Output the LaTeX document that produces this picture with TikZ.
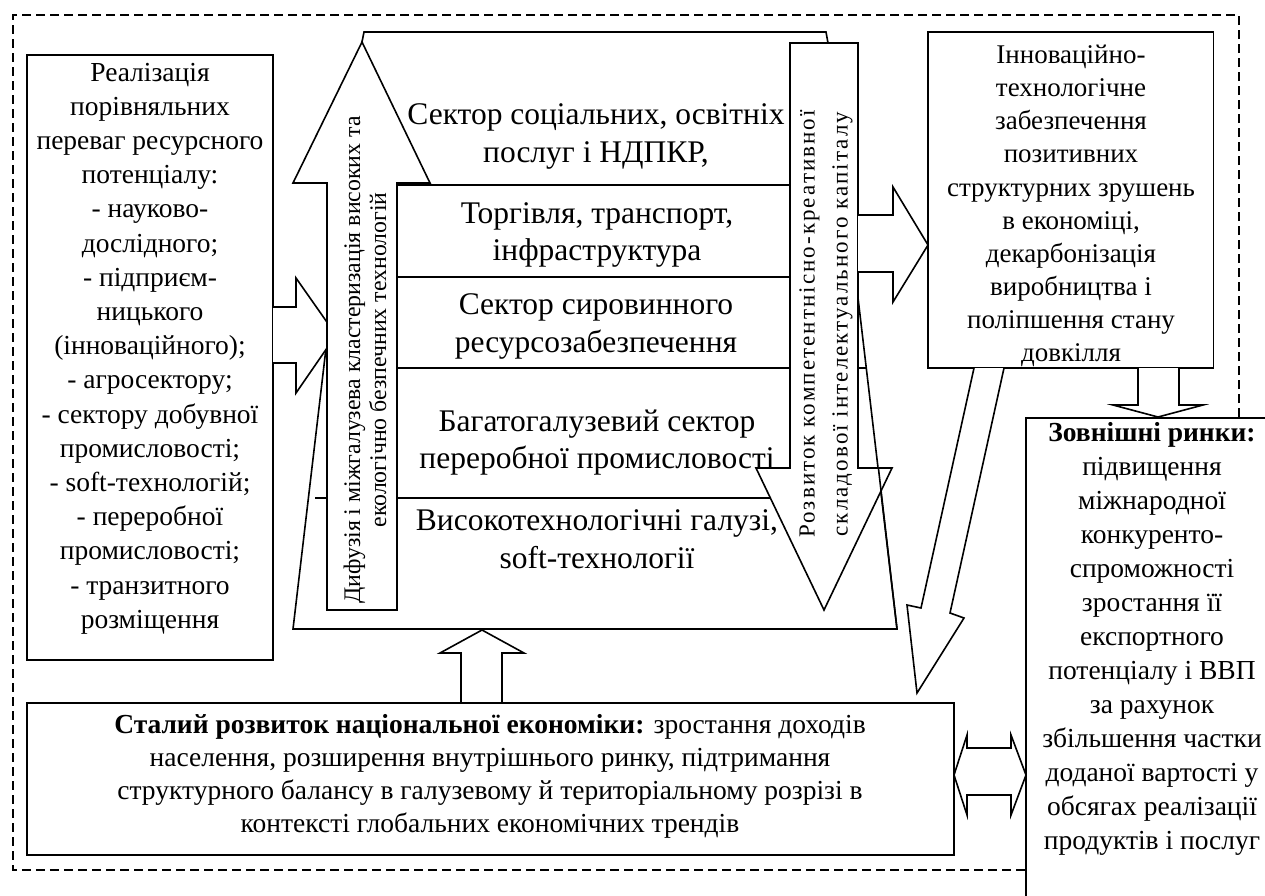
\documentclass[tikz,border=0pt]{standalone}
\usepackage{fontspec}
\setmainfont{Liberation Serif}
\newfontfamily\spacedfont[LetterSpace=9]{Liberation Serif}
\begin{document}
\begin{tikzpicture}[x=1pt,y=-1pt,line width=1.6pt,line join=miter,
  shp/.style={draw=black,fill=white,line width=1.6pt},
  box/.style={draw=black,fill=white,line width=1.6pt,inner sep=0pt,outer sep=0pt},
  frame/.style={draw=black,line width=1.6pt,dash pattern=on 9pt off 5pt},
  txt/.style={align=center,inner sep=0pt,font=\fontsize{27.5}{34.2}\selectfont},
  sect/.style={align=center,inner sep=0pt,font=\fontsize{31.5}{37.5}\selectfont},
  vtxt/.style={align=center,inner sep=0pt,rotate=90}]
\useasboundingbox (0,0) rectangle (1265,895);
\clip (0,0) rectangle (1265,895);
% dashed frame
\coordinate (fr1) at (1239,417);
\coordinate (fr2) at (1239,15);
\coordinate (fr3) at (13,15);
\coordinate (fr4) at (13,870);
\coordinate (fr5) at (1026,870);
\draw[frame] (fr1) -- (fr2) -- (fr3) -- (fr4) -- (fr5);
% large sector block
\draw[shp] (362,42) -- (364,32) -- (826,32) -- (828,43) -- (897,629) -- (293,629) -- cycle;
\draw (397,185) -- (790,185);
\draw (397,277) -- (790,277);
\draw (397,368) -- (866,368);
\draw (315,498) -- (770,498);
% left box
\node[box,anchor=north west,minimum width=246pt,minimum height=605pt] (lbox) at (27,55) {};
\draw[shp] (273,307) -- (296,307) -- (296,278) -- (336,335) -- (296,393) -- (296,363) -- (273,363);
% up arrow (diffusion)
\draw[shp] (327,610) -- (327,183) -- (293,183) -- (362,42) -- (430,183) -- (397,183) -- (397,610) -- cycle;
% down arrow (development)
\draw[shp] (790,43) -- (858,43) -- (858,468) -- (892,468) -- (824,610) -- (756,468) -- (790,468) -- cycle;
\draw (878.4,468) -- (897,629);
% arrow to innovation box
\draw[shp] (858,215) -- (893,215) -- (893,187) -- (928,245) -- (893,302) -- (893,272) -- (858,272);
% innovation box
\node[box,anchor=north west,minimum width=285.5pt,minimum height=336pt] (ibox) at (928,32) {};
% down arrow to external markets
\draw[shp] (1138,368) -- (1138,405) -- (1113,405) -- (1158,417) -- (1203,405) -- (1179,405) -- (1179,368);
% external markets box
\node[box,anchor=north west,minimum width=252pt,minimum height=520pt] (rbox) at (1026,418) {};
% diagonal arrow
\draw[shp] (974,368) -- (921,608) -- (907,605) -- (917,693) -- (964,618) -- (950,613) -- (1004,368);
% up arrow from bottom box
\draw[shp] (461,703) -- (461,653) -- (440,653) -- (482,630) -- (524,653) -- (502,653) -- (502,703);
% bottom box
\node[box,anchor=north west,minimum width=927pt,minimum height=152pt] (botbox) at (27,703) {};
% double arrow
\draw[shp] (954,775) -- (967,735) -- (967,748) -- (1011,748) -- (1011,735) -- (1026,775) -- (1011,815) -- (1011,795) -- (967,795) -- (967,815) -- cycle;
% texts
\node[txt] (ltxt) at (150,348.5) {Реалізація\\порівняльних\\переваг ресурсного\\потенціалу:\\- науково-\\дослідного;\\- підприєм-\\ницького\\(інноваційного);\\- агросектору;\\- сектору добувної\\промисловості;\\- soft-технологій;\\- переробної\\промисловості;\\- транзитного\\розміщення};
\node[sect] (s1) at (596,136.5) {Сектор соціальних, освітніх\\послуг і НДПКР,};
\node[sect] (s2) at (597,235) {Торгівля, транспорт,\\інфраструктура};
\node[sect] (s3) at (596,326.5) {Сектор сировинного\\ресурсозабезпечення};
\node[sect] (s4) at (597,442.5) {Багатогалузевий сектор\\переробної промисловості};
\node[sect] (s5) at (597,539) {Високотехнологічні галузі,\\soft-технології};
\node[vtxt,font=\fontsize{23.8}{26}\selectfont] (dtxt) at (365,360) {Дифузія і міжгалузева кластеризація високих та\\екологічно безпечних технологій};
\node[vtxt,font=\spacedfont\fontsize{23}{33}\selectfont] (rtxt) at (826,324) {Розвиток компетентнісно-креативної\\складової інтелектуального капіталу};
\node[txt,font=\fontsize{27}{33.1}\selectfont] (itxt) at (1071,206) {Інноваційно-\\технологічне\\забезпечення\\позитивних\\структурних зрушень\\в економіці,\\декарбонізація\\виробництва і\\поліпшення стану\\довкілля};
\node[txt,font=\fontsize{27.5}{34}\selectfont] (etxt) at (1152,639) {\textbf{Зовнішні ринки:}\\підвищення\\міжнародної\\конкуренто-\\спроможності\\зростання її\\експортного\\потенціалу і ВВП\\за рахунок\\збільшення частки\\доданої вартості у\\обсягах реалізації\\продуктів і послуг};
\node[txt,font=\fontsize{27.5}{33}\selectfont] (btxt) at (490,776) {\textbf{Сталий розвиток національної економіки:} зростання доходів\\населення, розширення внутрішнього ринку, підтримання\\структурного балансу в галузевому й територіальному розрізі в\\контексті глобальних економічних трендів};
\end{tikzpicture}
\end{document}
